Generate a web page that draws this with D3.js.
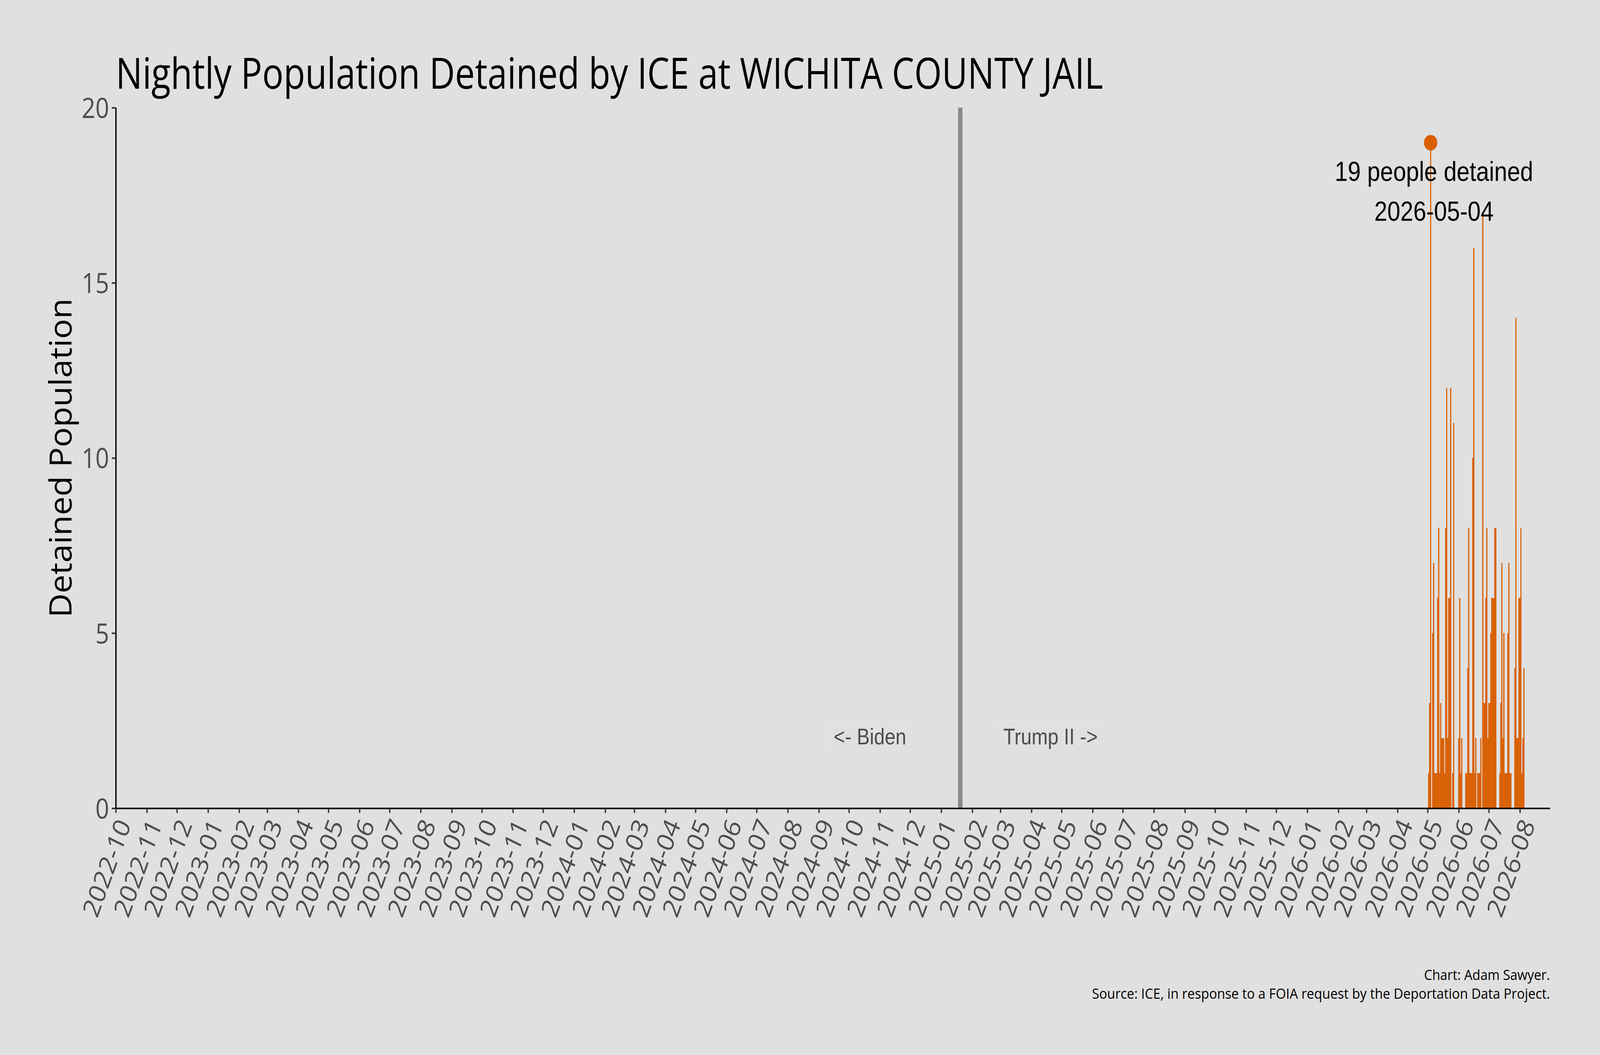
<!DOCTYPE html>
<html>
<head>
<meta charset="utf-8">
<script src="https://cdn.jsdelivr.net/npm/d3@7"></script>
<style>
  html, body { margin: 0; padding: 0; background: #e0e0e0; width: 100%; height: 100%; overflow: hidden; }
  svg { display: block; position: absolute; left: 0; top: 0; width: 100vw; height: 100vh; }
</style>
</head>
<body>
<script>
// ---------------- data ----------------
const chartTitle = "Nightly Population Detained by ICE at WICHITA COUNTY JAIL";
const yAxisTitle = "Detained Population";
const captionLines = ["Chart: Adam Sawyer.", "Source: ICE, in response to a FOIA request by the Deportation Data Project."];
const xDomainDates = ["2022-10-01", "2026-08-31"];
const yTickValues = [0, 5, 10, 15, 20];
const firstDataDate = "2026-05-01";
// nightly detained population, one value per day starting at firstDataDate
const detainedValues = [
  0, 1, 3, 19, 0, 5, 7, 1, 1, 1, 6, 8, 1, 3, 2, 2, 2, 1, 8, 12, 2, 6, 6, 12, 0, 1, 11, 0, 0, 0, 0,
  2, 6, 1, 2, 0, 0, 0, 1, 1, 4, 8, 1, 1, 1, 10, 16, 1, 2, 0, 1, 1, 1, 2, 0, 17, 3, 3, 6, 8,
  2, 3, 3, 5, 6, 6, 6, 8, 8, 0, 0, 0, 1, 3, 7, 2, 5, 1, 1, 1, 5, 7, 1, 1, 0, 0, 0, 4, 14, 2, 2,
  6, 6, 8, 1, 2, 4
];
const inaugurationDate = "2025-01-20";
const eraLabels = ["<- Biden", "Trump II ->"];
const peakLabel = ["19 people detained", "2026-05-04"];
const peakDate = "2026-05-04";
const peakValue = 19;

// ---------------- layout ----------------
const W = 4800, H = 2700;
const plot = { left: 347.3, right: 4650, top: 275.6, bottom: 2068.5 };
const bg = "#e0e0e0", barColor = "#d95f02";
const uiFont = "'Open Sans', 'Noto Sans', sans-serif";
const arialFont = "'Liberation Sans', Arial, sans-serif";

const parse = d3.utcParse("%Y-%m-%d");
const days = d3.utcDay.range(parse(firstDataDate), d3.utcDay.offset(parse(firstDataDate), detainedValues.length));
const data = days.map((d, i) => ({ date: d, value: detainedValues[i] }));

const svg = d3.select("body").append("svg")
  .attr("viewBox", `0 0 ${W} ${H}`)
  .attr("preserveAspectRatio", "none");
svg.append("rect").attr("width", W).attr("height", H).attr("fill", bg);

const x = d3.scaleUtc().domain(xDomainDates.map(parse)).range([plot.left, plot.right]);
const y = d3.scaleLinear().domain([0, 20]).range([plot.bottom, plot.top]);

// inauguration line
const inaug = parse(inaugurationDate);
svg.append("line")
  .attr("x1", x(inaug)).attr("x2", x(inaug))
  .attr("y1", y(0)).attr("y2", y(20))
  .attr("stroke", "#898989").attr("stroke-width", 13);

// era labels
const eraX = [x(d3.utcDay.offset(inaug, -90)), x(d3.utcDay.offset(inaug, 90))];
eraLabels.forEach((t, i) => {
  const g = svg.append("g");
  const txt = g.append("text")
    .attr("x", eraX[i]).attr("y", y(2)).attr("dy", "0.27em")
    .attr("text-anchor", "middle")
    .attr("font-family", arialFont).attr("font-size", 58)
    .attr("fill", "#4d4d4d").text(t);
  const bb = txt.node().getBBox();
  g.insert("rect", "text")
    .attr("x", bb.x - 20).attr("y", y(2) - 44).attr("width", bb.width + 40).attr("height", 88)
    .attr("rx", 8).attr("fill", "none").attr("stroke", "#e2e2e2").attr("stroke-width", 1.5);
});

// bars (one per day, centered on the date)
svg.append("g").selectAll("rect").data(data.filter(d => d.value > 0)).join("rect")
  .attr("x", d => x(d3.utcHour.offset(d.date, -12)))
  .attr("width", d => x(d3.utcHour.offset(d.date, 12)) - x(d3.utcHour.offset(d.date, -12)))
  .attr("y", d => y(d.value))
  .attr("height", d => y(0) - y(d.value))
  .attr("fill", barColor)
  .attr("stroke", barColor).attr("stroke-width", 0.4);

// peak point + annotation
const pk = parse(peakDate);
svg.append("circle").attr("cx", x(pk)).attr("cy", y(peakValue)).attr("r", 20).attr("fill", barColor);
const ann = svg.append("text").attr("text-anchor", "middle")
  .attr("font-family", arialFont).attr("font-size", 70).attr("fill", "#000");
ann.append("tspan").attr("x", x(pk) + 10).attr("y", y(peakValue) + 98).text(peakLabel[0]);
ann.append("tspan").attr("x", x(pk) + 10).attr("y", y(peakValue) + 200).text(peakLabel[1]);

// x axis
const monthTicks = d3.utcMonth.range(parse(xDomainDates[0]), d3.utcDay.offset(parse(xDomainDates[1]), 1));
const xAxis = svg.append("g").attr("transform", `translate(0,${plot.bottom})`)
  .call(d3.axisBottom(x).tickValues(monthTicks).tickFormat(d3.utcFormat("%Y-%m")).tickSize(12).tickSizeOuter(0));
xAxis.select(".domain").attr("stroke", "#000").attr("stroke-width", 4);
xAxis.selectAll(".tick line").attr("stroke", "#333").attr("stroke-width", 4);
xAxis.selectAll(".tick text")
  .attr("x", 0).attr("y", 0).attr("dy", "0.72em")
  .attr("transform", "translate(0,22) rotate(-67)")
  .attr("text-anchor", "end")
  .attr("font-family", uiFont).attr("font-size", 70).attr("fill", "#4d4d4d");

// y axis
const yAxis = svg.append("g").attr("transform", `translate(${plot.left},0)`)
  .call(d3.axisLeft(y).tickValues(yTickValues).tickSize(12).tickSizeOuter(0));
yAxis.select(".domain").attr("stroke", "#000").attr("stroke-width", 4);
yAxis.selectAll(".tick line").attr("stroke", "#333").attr("stroke-width", 4);
yAxis.selectAll(".tick text")
  .attr("x", -20).attr("dy", "0.36em")
  .attr("font-family", uiFont).attr("font-size", 72).attr("fill", "#4d4d4d");

// y axis title
svg.append("text")
  .attr("transform", `translate(215,${(plot.top + plot.bottom) / 2}) rotate(-90)`)
  .attr("text-anchor", "middle")
  .attr("font-family", uiFont).attr("font-size", 93).attr("fill", "#000")
  .attr("textLength", 817).attr("lengthAdjust", "spacingAndGlyphs")
  .text(yAxisTitle);

// title
svg.append("text")
  .attr("x", plot.left).attr("y", 227)
  .attr("font-family", uiFont).attr("font-size", 110).attr("fill", "#000")
  .attr("textLength", 2962).attr("lengthAdjust", "spacingAndGlyphs")
  .text(chartTitle);

// caption
const capLens = [378, 1374];
captionLines.forEach((t, i) => {
  svg.append("text")
    .attr("x", plot.right).attr("y", 2508 + i * 48)
    .attr("text-anchor", "end")
    .attr("font-family", uiFont).attr("font-size", 37).attr("fill", "#000")
    .attr("textLength", capLens[i]).attr("lengthAdjust", "spacingAndGlyphs")
    .text(t);
});
</script>
</body>
</html>
